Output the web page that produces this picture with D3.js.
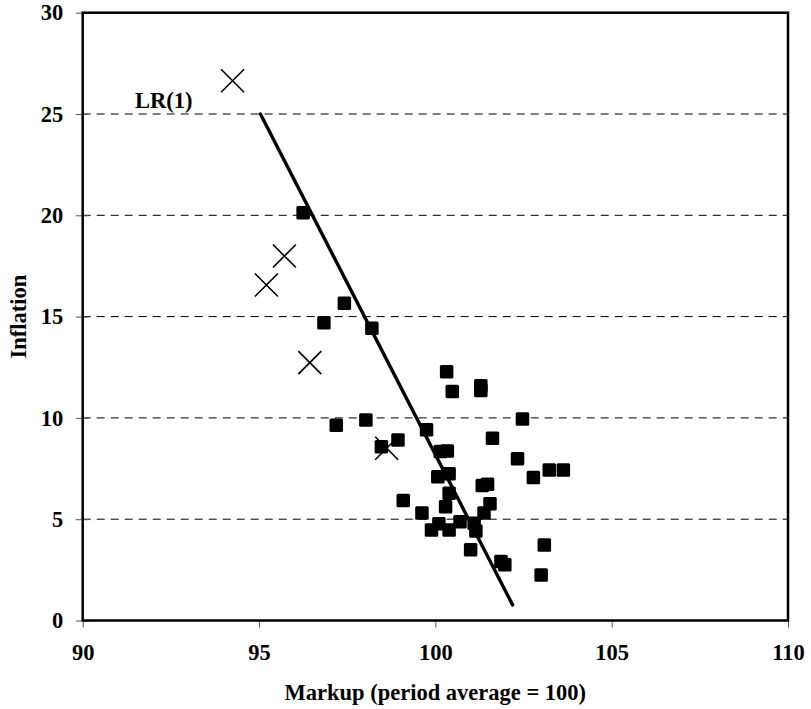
<!DOCTYPE html>
<html>
<head>
<meta charset="utf-8">
<script src="https://cdn.jsdelivr.net/npm/d3@7"></script>
<style>
  html, body { margin: 0; padding: 0; background: #fff; }
  svg { display: block; }
  text { font-family: "Liberation Serif", "Times New Roman", serif; font-weight: bold; fill: #000; }
</style>
</head>
<body>
<svg id="chart" width="811" height="709"></svg>
<script>
// ---- data ----
const xTicks = [90, 95, 100, 105, 110];
const yTicks = [0, 5, 10, 15, 20, 25, 30];
const gridValues = [5, 10, 15, 20, 25];

const squareX = [96.25, 97.42, 96.84, 98.20, 100.32, 100.48, 101.29, 101.29, 102.47, 97.19,
                 98.03, 99.75, 98.94, 98.47, 101.62, 100.14, 100.34, 102.33, 100.07, 100.39,
                 103.23, 103.63, 102.78, 101.33, 101.48, 100.39, 99.09, 100.29, 101.55, 99.62,
                 101.38, 100.10, 99.89, 100.39, 100.70, 101.10, 101.15, 101.00, 103.09, 101.86,
                 101.97, 103.00];
const squareY = [20.13, 15.66, 14.70, 14.43, 12.28, 11.30, 11.59, 11.35, 9.95, 9.64,
                 9.90, 9.41, 8.91, 8.58, 9.00, 8.34, 8.37, 7.98, 7.10, 7.24,
                 7.43, 7.43, 7.06, 6.66, 6.72, 6.28, 5.92, 5.62, 5.76, 5.30,
                 5.30, 4.77, 4.47, 4.47, 4.88, 4.80, 4.42, 3.49, 3.73, 2.91,
                 2.75, 2.25];

const crossX = [94.25, 95.72, 95.21, 96.44, 98.62];
const crossY = [26.64, 17.99, 16.56, 12.73, 8.50];

const lineX = [95.04, 102.19];
const lineY = [25.0, 0.77];
const lineLabel = "LR(1)";

const xTitle = "Markup (period average = 100)";
const yTitle = "Inflation";

// ---- layout ----
const svg = d3.select("#chart");
const pL = 82.7, pR = 788, pT = 12.7, pB = 620.5;
const FONT = "'Liberation Serif', 'Times New Roman', serif";
const FS = "22.5px";

const x = d3.scaleLinear().domain([90, 110]).range([pL, pR]);
const y = d3.scaleLinear().domain([0, 30]).range([pB, pT]);

// gridlines
svg.append("g").selectAll("line").data(gridValues).join("line")
  .attr("x1", pL).attr("x2", pR)
  .attr("y1", d => y(d)).attr("y2", d => y(d))
  .attr("stroke", "#000").attr("stroke-width", 1)
  .attr("stroke-dasharray", "8,6");

// axes
const xAxis = svg.append("g").attr("transform", `translate(0,${pB})`)
  .call(d3.axisBottom(x).tickValues(xTicks).tickSize(7).tickPadding(17).tickFormat(d3.format("d")));
const yAxis = svg.append("g").attr("transform", `translate(${pL},0)`)
  .call(d3.axisLeft(y).tickValues(yTicks).tickSize(7).tickPadding(12.5).tickFormat(d3.format("d")));
[xAxis, yAxis].forEach(g => {
  g.attr("font-family", null).attr("font-size", null);
  g.select(".domain").remove();
  g.selectAll(".tick line").attr("stroke", "#555").attr("stroke-width", 1);
  g.selectAll(".tick text")
    .style("font-size", FS)
    .style("font-family", FONT)
    .style("font-weight", "bold")
    .attr("fill", "#000");
});
// y ticks cross the axis slightly
yAxis.selectAll(".tick line").attr("x1", 6);

// plot border
svg.append("rect")
  .attr("x", pL).attr("y", pT)
  .attr("width", pR - pL).attr("height", pB - pT)
  .attr("fill", "none").attr("stroke", "#000").attr("stroke-width", 2.5);

// regression line
svg.append("line")
  .attr("x1", x(lineX[0])).attr("y1", y(lineY[0]))
  .attr("x2", x(lineX[1])).attr("y2", y(lineY[1]))
  .attr("stroke", "#000").attr("stroke-width", 3.4).attr("stroke-linecap", "round");

// squares
const sq = 13.5;
svg.append("g").selectAll("rect").data(squareX.map((v, i) => [v, squareY[i]])).join("rect")
  .attr("x", d => x(d[0]) - sq / 2).attr("y", d => y(d[1]) - sq / 2)
  .attr("width", sq).attr("height", sq).attr("rx", 1.5)
  .attr("fill", "#000");

// crosses
const cs = 11.5;
svg.append("g").selectAll("path").data(crossX.map((v, i) => [v, crossY[i]])).join("path")
  .attr("d", d => {
    const cx = x(d[0]), cy = y(d[1]);
    return `M${cx - cs},${cy - cs}L${cx + cs},${cy + cs}M${cx - cs},${cy + cs}L${cx + cs},${cy - cs}`;
  })
  .attr("stroke", "#000").attr("stroke-width", 1.6).attr("fill", "none");

// label
svg.append("text")
  .attr("x", x(91.48)).attr("y", y(25.3))
  .style("font-size", FS).style("font-family", FONT)
  .text(lineLabel);

// axis titles
svg.append("text")
  .attr("x", (pL + pR) / 2).attr("y", 700)
  .attr("text-anchor", "middle")
  .style("font-size", FS).style("font-family", FONT)
  .text(xTitle);

svg.append("text")
  .attr("transform", `translate(26,${(pT + pB) / 2}) rotate(-90)`)
  .attr("text-anchor", "middle")
  .style("font-size", FS).style("font-family", FONT)
  .text(yTitle);
</script>
</body>
</html>
